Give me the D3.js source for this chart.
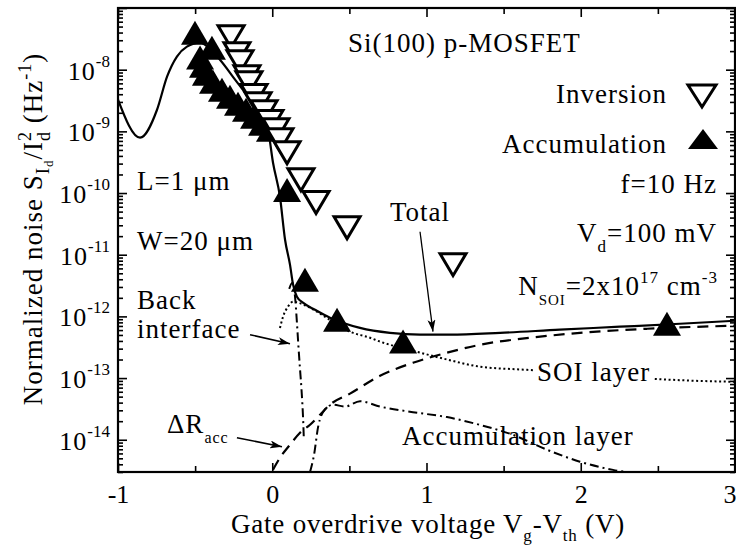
<!DOCTYPE html>
<html><head><meta charset="utf-8">
<script src="https://cdn.jsdelivr.net/npm/d3@7"></script>
<style>
body{margin:0;background:#fff;}
svg{display:block;}
svg text{font-family:"Liberation Serif","Tinos","DejaVu Serif",serif !important;fill:#000;}
</style>
</head><body>
<svg id="c" width="736" height="552"></svg>
<script>
// ---------- data ----------
const xTicks = [-1, 0, 1, 2, 3];
const xMinorTicks = [-0.5, 0.5, 1.5, 2.5];
const yExponents = [-14, -13, -12, -11, -10, -9, -8];

const inversionVg    = [-0.267,-0.229,-0.209,-0.164,-0.151,-0.118,-0.092,-0.053,-0.015,0.024,0.050,0.096,0.186,0.284,0.485,1.172];
const inversionNoise = [3.43e-8,1.82e-8,1.35e-8,7.7e-9,6.15e-9,3.8e-9,2.8e-9,2.08e-9,1.44e-9,1.06e-9,7.3e-10,4.5e-10,1.64e-10,7.0e-11,2.74e-11,6.9e-12];

const accumulationVg    = [-0.501,-0.391,-0.468,-0.449,-0.430,-0.384,-0.326,-0.274,-0.222,-0.170,-0.118,-0.066,-0.015,0.096,0.212,0.420,0.848,2.559];
const accumulationNoise = [3.98e-8,2.27e-8,1.57e-8,1.16e-8,8.6e-9,6.4e-9,4.74e-9,3.65e-9,2.81e-9,2.24e-9,1.73e-9,1.33e-9,1.06e-9,1.12e-10,3.94e-12,8.8e-13,3.9e-13,7.6e-13];

const totalVg    = [-1,-0.857,-0.747,-0.682,-0.618,-0.553,-0.468,-0.436,-0.339,-0.241,-0.144,-0.079,-0.028,0.005,0.050,0.083,0.115,0.135,0.160,0.199,0.277,0.374,0.569,0.763,0.958,1.152,1.477,1.865,2.254,2.643,3.0];
const totalNoise = [3.27e-9,7.9e-10,2.24e-9,7.7e-9,1.63e-8,2.36e-8,2.74e-8,2.54e-8,1.45e-8,6.9e-9,3.27e-9,1.86e-9,1.06e-9,3.1e-10,8.7e-11,1.75e-11,6.9e-12,3.27e-12,2.08e-12,1.67e-12,1.28e-12,9.5e-13,6.5e-13,5.4e-13,5.05e-13,5.05e-13,5.4e-13,6.1e-13,6.8e-13,7.6e-13,8.5e-13];

const soiVg    = [0.050,0.070,0.102,0.135,0.167,0.245,0.374,0.504,0.634,0.699,0.938,1.133,1.347,1.652,2.06,2.449,2.708,3.0];
const soiNoise = [6.5e-13,9.9e-13,1.44e-12,1.73e-12,1.67e-12,1.38e-12,8.8e-13,5.65e-13,4.5e-13,3.9e-13,2.67e-13,2.0e-13,1.53e-13,1.36e-13,1.17e-13,9.8e-14,9.1e-14,8.7e-14];

const deltaRVg    = [0.005,0.050,0.115,0.180,0.245,0.310,0.374,0.504,0.699,0.912,1.133,1.347,1.671,1.995,2.43,3.0];
const deltaRNoise = [3.27e-15,5.1e-15,8.3e-15,1.3e-14,1.75e-14,2.55e-14,3.7e-14,5.6e-14,1.09e-13,1.77e-13,2.58e-13,3.47e-13,4.5e-13,5.4e-13,6.3e-13,7.06e-13];

const backVg    = [0.11,0.13,0.15,0.16,0.17,0.18,0.19,0.20,0.205];
const backNoise = [2.8e-12,3.5e-12,1.8e-12,7.9e-13,3.2e-13,1.4e-13,6.3e-14,2.2e-14,1.0e-14];

const accLayerVg    = [0.245,0.271,0.297,0.342,0.394,0.472,0.569,0.699,0.912,1.133,1.347,1.561,1.781,1.995,2.209,2.384];
const accLayerNoise = [3.0e-15,5.7e-15,1.6e-14,3.1e-14,3.7e-14,3.45e-14,4.2e-14,3.45e-14,2.8e-14,2.33e-14,1.74e-14,1.2e-14,6.9e-15,4.4e-15,3.25e-15,2.8e-15];

// annotation arrows (data coords): [x0, y0, x1, y1]
const totalArrow = [0.958, 2.36e-11, 1.042, 5.65e-13];
const backArrow  = [-0.144, 5.05e-13, 0.115, 3.6e-13];
const deltaArrow = [-0.229, 1.08e-14, 0.063, 7.7e-15];

// ---------- chart ----------
const FONT = '"Liberation Serif","Tinos","DejaVu Serif",serif';
const FS = 27, LS = 1;
const svg = d3.select('#c');
const X0 = 118, X1 = 735, Y0 = 8, Y1 = 472;
const x = d3.scaleLinear().domain([-1, 3]).range([X0, X1]);
const y = d3.scaleLog().domain([3e-15, 1e-7]).range([Y1, Y0]);

svg.append('defs').append('clipPath').attr('id','clip')
  .append('rect').attr('x',X0).attr('y',Y0).attr('width',X1-X0).attr('height',Y1-Y0);
const arrowDef = svg.select('defs').append('marker').attr('id','arr')
  .attr('viewBox','0 0 12 8').attr('refX',12).attr('refY',4)
  .attr('markerWidth',12).attr('markerHeight',8).attr('markerUnits','userSpaceOnUse')
  .attr('orient','auto');
arrowDef.append('path').attr('d','M0,0 L12,4 L0,8 L3,4 Z').attr('fill','#000');

// minor y ticks
const yMinor = [];
for (let e = -15; e <= -8; e++) for (let m = 2; m <= 9; m++) {
  const v = m * Math.pow(10, e);
  if (v >= 3e-15 && v <= 1e-7) yMinor.push(v);
}
const yMajor = yExponents.map(e => Math.pow(10, e)).concat([1e-7]);

function styleAxis(g){ g.attr('font-family', FONT); g.select('.domain').remove(); g.selectAll('line').attr('stroke','#000').attr('stroke-width',1.6); }

svg.append('g').attr('transform',`translate(0,${Y1})`)
  .call(d3.axisBottom(x).tickValues(xTicks).tickSize(-9).tickPadding(13).tickFormat(d => String(d)))
  .call(styleAxis)
  .call(g => g.selectAll('text').attr('font-size',26).attr('fill','#000')
     .attr('text-anchor', d => d === 3 ? 'end' : 'middle').attr('x', d => d === 3 ? 1 : 0));
svg.append('g').attr('transform',`translate(0,${Y1})`)
  .call(d3.axisBottom(x).tickValues(xMinorTicks).tickSize(-6).tickFormat('')).call(styleAxis);
svg.append('g').attr('transform',`translate(0,${Y0})`)
  .call(d3.axisTop(x).tickValues(xTicks).tickSize(-9).tickFormat('')).call(styleAxis);
svg.append('g').attr('transform',`translate(0,${Y0})`)
  .call(d3.axisTop(x).tickValues(xMinorTicks).tickSize(-6).tickFormat('')).call(styleAxis);
svg.append('g').attr('transform',`translate(${X0},0)`)
  .call(d3.axisLeft(y).tickValues(yMajor).tickSize(-9).tickFormat('')).call(styleAxis);
svg.append('g').attr('transform',`translate(${X0},0)`)
  .call(d3.axisLeft(y).tickValues(yMinor).tickSize(-5).tickFormat('')).call(styleAxis);
svg.append('g').attr('transform',`translate(${X1},0)`)
  .call(d3.axisRight(y).tickValues(yMajor).tickSize(-9).tickFormat('')).call(styleAxis);
svg.append('g').attr('transform',`translate(${X1},0)`)
  .call(d3.axisRight(y).tickValues(yMinor).tickSize(-5).tickFormat('')).call(styleAxis);

// y tick labels
yExponents.forEach(e => {
  const t = svg.append('text').attr('x', 110).attr('y', y(Math.pow(10, e)) + 10)
    .attr('text-anchor','end').attr('font-size',26).attr('font-family',FONT);
  t.append('tspan').attr('letter-spacing',1).text('10');
  t.append('tspan').attr('dy',-13).attr('font-size',17).text(String(e));
});

// frame
svg.append('rect').attr('x',X0).attr('y',Y0).attr('width',X1-X0).attr('height',Y1-Y0)
  .attr('fill','none').attr('stroke','#000').attr('stroke-width',2.2);

// curves
const line = d3.line().x(d => x(d[0])).y(d => y(d[1])).curve(d3.curveMonotoneX);
const plot = svg.append('g').attr('clip-path','url(#clip)');
function curve(vx, vy, w, dash){
  plot.append('path').datum(d3.zip(vx, vy)).attr('d', line)
    .attr('fill','none').attr('stroke','#000').attr('stroke-width',w)
    .attr('stroke-dasharray', dash);
}
curve(soiVg, soiNoise, 2, '2,2.6');
curve(deltaRVg, deltaRNoise, 2.2, '11,7');
curve(backVg, backNoise, 2, '9,4,2,4');
curve(accLayerVg, accLayerNoise, 2, '9,4,2,4');
curve(totalVg, totalNoise, 2.2, null);

// markers
const up = 'M-14,12 L14,12 L0,-12 Z';
const down = 'M-13,-11 L13,-11 L0,11 Z';
plot.selectAll('.acc').data(d3.zip(accumulationVg, accumulationNoise)).join('path')
  .attr('d', up).attr('transform', d => `translate(${x(d[0])},${y(d[1])})`).attr('fill','#000');
plot.selectAll('.inv').data(d3.zip(inversionVg, inversionNoise)).join('path')
  .attr('d', down).attr('transform', d => `translate(${x(d[0])},${y(d[1])})`)
  .attr('fill','#fff').attr('stroke','#000').attr('stroke-width',3).attr('stroke-linejoin','miter');

// arrows
[totalArrow, backArrow, deltaArrow].forEach((a, i) => {
  svg.append('line').attr('x1',x(a[0])).attr('y1',y(a[1])).attr('x2',x(a[2])).attr('y2',y(a[3]))
    .attr('stroke','#000').attr('stroke-width', i === 0 ? 1.3 : 1.6).attr('marker-end','url(#arr)');
});

// texts
function label(txt, px, py, anchor, size){
  return svg.append('text').attr('x',px).attr('y',py).attr('text-anchor',anchor||'start')
    .attr('font-family',FONT).attr('font-size',size||FS).attr('letter-spacing',LS).text(txt);
}
label('Si(100) p-MOSFET', 348, 52);
label('Inversion', 667, 103, 'end');
label('Accumulation', 667, 153, 'end');
svg.append('path').attr('d', 'M-14,-11 L14,-11 L0,11 Z').attr('transform','translate(702,96)')
  .attr('fill','#fff').attr('stroke','#000').attr('stroke-width',3);
svg.append('path').attr('d', 'M-15,10 L15,10 L0,-10 Z').attr('transform','translate(703,139)').attr('fill','#000');
label('f=10 Hz', 717, 193, 'end');
{
  const t = label('', 717, 242, 'end');
  t.append('tspan').text('V');
  t.append('tspan').attr('dy',10).attr('font-size',17).text('d');
  t.append('tspan').attr('dy',-10).text('=100 mV');
}
{
  const t = label('', 718, 295, 'end');
  t.append('tspan').text('N');
  t.append('tspan').attr('dy',10).attr('font-size',15).text('SOI');
  t.append('tspan').attr('dy',-10).text('=2x10');
  t.append('tspan').attr('dy',-12).attr('font-size',17).text('17');
  t.append('tspan').attr('dy',12).text(' cm');
  t.append('tspan').attr('dy',-12).attr('font-size',17).text('-3');
}
label('L=1 μm', 137, 190);
label('W=20 μm', 137, 250);
label('Total', 390, 221);
label('Back', 137, 309);
label('interface', 137, 338);
{
  const t = label('', 167, 433);
  t.append('tspan').text('ΔR');
  t.append('tspan').attr('dy',10).attr('font-size',16).text('acc');
}
{
  const t = label('SOI layer', 537, 381);
  const bb = t.node().getBBox();
  svg.insert('rect', () => t.node()).attr('x', bb.x - 3).attr('y', bb.y + 4)
    .attr('width', bb.width + 6).attr('height', bb.height - 6).attr('fill','#fff');
}
label('Accumulation layer', 402, 445);

// axis titles
{
  const t = svg.append('text').attr('x', 428).attr('y', 533).attr('text-anchor','middle')
    .attr('font-family',FONT).attr('font-size',FS).attr('letter-spacing',0.8);
  t.append('tspan').text('Gate overdrive voltage V');
  t.append('tspan').attr('dy',8).attr('font-size',17).text('g');
  t.append('tspan').attr('dy',-8).text('-V');
  t.append('tspan').attr('dy',8).attr('font-size',17).text('th');
  t.append('tspan').attr('dy',-8).text(' (V)');
}
{
  const t = svg.append('text').attr('transform','translate(42,229) rotate(-90)')
    .attr('text-anchor','middle').attr('font-family',FONT).attr('font-size',FS).attr('letter-spacing',1);
  t.append('tspan').text('Normalized noise S');
  t.append('tspan').attr('dy',7).attr('font-size',19).text('I');
  t.append('tspan').attr('dy',4).attr('font-size',13).text('d');
  t.append('tspan').attr('dy',-11).text('/I');
  t.append('tspan').attr('dy',-11).attr('font-size',18).text('2');
  t.append('tspan').attr('dx',-10).attr('dy',19).attr('font-size',18).text('d');
  t.append('tspan').attr('dy',-8).text(' (Hz');
  t.append('tspan').attr('dy',-11).attr('font-size',18).text('-1');
  t.append('tspan').attr('dy',11).text(')');
}
</script>
</body></html>
